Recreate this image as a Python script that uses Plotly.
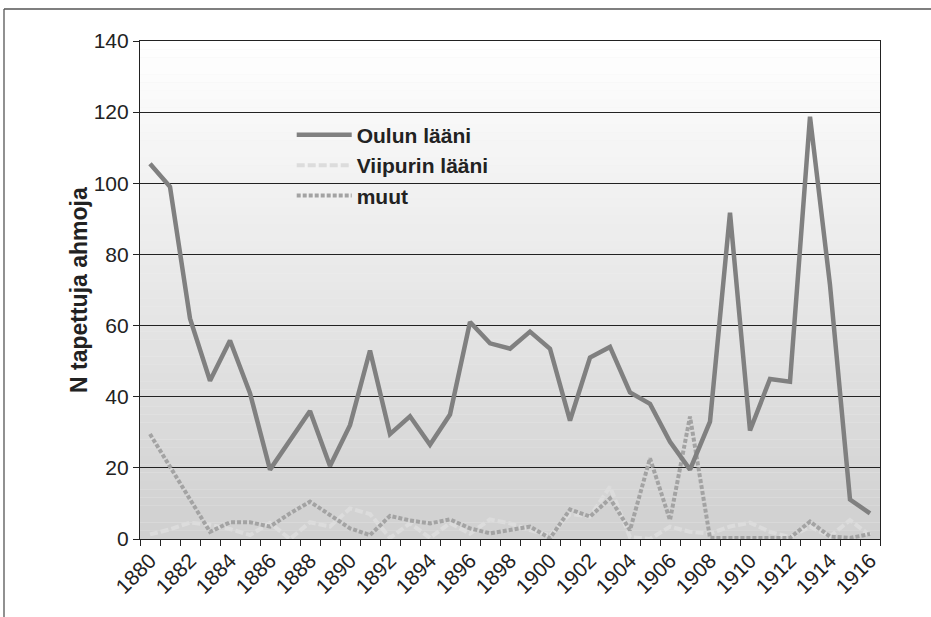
import plotly.graph_objects as go

years = list(range(1880, 1917))
oulun = [105.5, 99, 62, 44.5, 55.8, 41, 19.5, 27.5, 36, 20.5,
         32, 53, 29.5, 34.5, 26.5, 35, 61, 55, 53.5, 58.3,
         53.5, 33.3, 51, 54, 41.2, 38, 27.3, 19.5, 33, 91.7,
         30.5, 45, 44.2, 118.7, 71.4, 11.1, 7.2]
viipurin = [1.3, 2.7, 4.6, 4, 2.8, 1.1, 4.5, 0, 4.7, 3.5,
            8.6, 7, 0.3, 4.4, 0.3, 4.5, 1.5, 5.5, 4.4, 2.5,
            1, 7, 6.3, 14.7, 0.5, 0, 3.5, 2, 1.5, 3.5,
            4.6, 2, 0.5, 3.5, 0.7, 5.3, 1]
muut = [29.5, 20.4, 11.5, 2, 4.7, 4.7, 3.5, 7.2, 10.5, 6.7,
        3, 1.1, 6.5, 5.2, 4.4, 5.5, 3, 1.6, 2.5, 3.5,
        0.2, 8.3, 6.3, 11.4, 2.5, 22.7, 5.3, 34.4, 0.3, 0.3,
        0.3, 0.3, 0.3, 4.9, 0.7, 0.3, 1.4]
tick_years = list(range(1880, 1917, 2))
y_ticks = list(range(0, 141, 20))
y_title = "N tapettuja ahmoja"

FONT = "Arial, Liberation Sans, sans-serif"

fig = go.Figure()
fig.add_trace(go.Scatter(x=years, y=viipurin, name="Viipurin lääni", mode="lines",
                         line=dict(color="#dcdcdc", width=4, dash="8px,3px"),
                         legendrank=2))
fig.add_trace(go.Scatter(x=years, y=muut, name="muut", mode="lines",
                         line=dict(color="#a3a3a3", width=4, dash="4px,2px"),
                         legendrank=3))
fig.add_trace(go.Scatter(x=years, y=oulun, name="Oulun lääni", mode="lines",
                         line=dict(color="#808080", width=4.5),
                         legendrank=1))

# gradient background of plot area
shapes = []
n = 60
for i in range(n):
    t = i / (n - 1)
    c = int(round(255 - (255 - 208) * (1 - t)))
    shapes.append(dict(type="rect", xref="x domain", yref="y domain",
                       x0=0, x1=1, y0=i / n, y1=(i + 1) / n,
                       fillcolor=f"rgb({c},{c},{c})", line=dict(width=0),
                       layer="below"))
# outer chart frame (top and left edges)
fx = (4 - 140) / 740
fy_top = (539 - 9) / 498
shapes.append(dict(type="line", xref="paper", yref="paper", x0=fx, x1=1.2,
                   y0=fy_top, y1=fy_top, line=dict(color="#555555", width=1.3)))
shapes.append(dict(type="line", xref="paper", yref="paper", x0=fx, x1=fx,
                   y0=fy_top, y1=-0.3, line=dict(color="#555555", width=1.3)))

fig.update_layout(
    width=931, height=617,
    margin=dict(l=140, r=51, t=41, b=78),
    paper_bgcolor="white",
    plot_bgcolor="#eeeeee",
    font=dict(family=FONT, color="#222222"),
    shapes=shapes,
    showlegend=True,
    legend=dict(x=0.205, y=0.852, xanchor="left", yanchor="top",
                bgcolor="rgba(0,0,0,0)", traceorder="normal",
                font=dict(family=FONT, size=21, color="#222222", weight="bold"),
                itemwidth=55, tracegroupgap=0),
    annotations=[dict(text=y_title, xref="paper", yref="paper",
                      x=(79 - 140) / 740, y=0.5, xanchor="center", yanchor="middle",
                      textangle=-90, showarrow=False,
                      font=dict(family=FONT, size=23, color="#222222", weight="bold"))],
    xaxis=dict(range=[1879.5, 1916.5], tickmode="array", tickvals=tick_years,
               ticktext=[str(v) for v in tick_years], tickangle=-45,
               ticks="", showgrid=False, zeroline=False,
               showline=True, linecolor="#222222", linewidth=1.2, mirror=True,
               tickfont=dict(family=FONT, size=21, color="#222222"),
               minor=dict(tickmode="linear", tick0=1879.5, dtick=1, ticks="outside",
                          ticklen=6, tickcolor="#222222", showgrid=False)),
    yaxis=dict(range=[0, 140], tickmode="array", tickvals=y_ticks,
               ticks="outside", ticklen=6, tickcolor="#222222",
               showgrid=True, gridcolor="#222222", gridwidth=1.2,
               zeroline=False, showline=True, linecolor="#222222", linewidth=1.2,
               mirror=True,
               tickfont=dict(family=FONT, size=21, color="#222222")),
)

fig.write_html("out.html", config={"displayModeBar": False},
               post_script="document.body.style.margin='0';")
